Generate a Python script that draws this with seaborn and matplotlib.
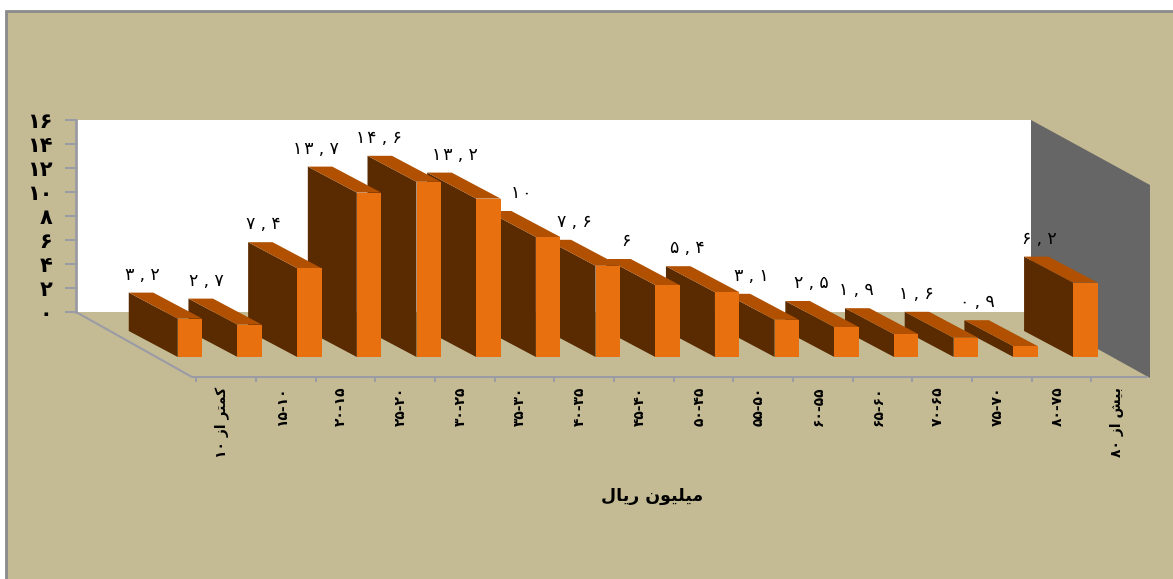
import matplotlib
matplotlib.use('Agg')
import matplotlib.pyplot as plt
import seaborn as sns
import pandas as pd
from matplotlib.patches import Polygon
from matplotlib.transforms import IdentityTransform

W, H = 1173, 579

# matplotlib has no arabic shaping, so words are given in presentation forms
def rtl(s):
    return s[::-1]

AZ = rtl('\uFE8D\uFEAF')
KAMTAR = rtl('\uFB90\uFEE4\uFE98\uFEAE')
BISH = rtl('\uFE91\uFEF4\uFEB6')
MILYUN = rtl('\uFEE3\uFEF4\uFEE0\uFEF4\uFEEE\uFEE5')
RIAL = rtl('\uFEAD\uFEF3\uFE8E\uFEDD')

categories = [
    f'۱۰ {AZ} {KAMTAR}', '۱۵-۱۰', '۲۰-۱۵', '۲۵-۲۰', '۳۰-۲۵', '۳۵-۳۰', '۴۰-۳۵', '۴۵-۴۰',
    '۵۰-۴۵', '۵۵-۵۰', '۶۰-۵۵', '۶۵-۶۰', '۷۰-۶۵', '۷۵-۷۰', '۸۰-۷۵', f'۸۰ {AZ} {BISH}',
]
values = [3.2, 2.7, 7.4, 13.7, 14.6, 13.2, 10, 7.6, 6, 5.4, 3.1, 2.5, 1.9, 1.6, 0.9, 6.2]
value_labels = ['۳,۲', '۲,۷', '۷,۴', '۱۳,۷', '۱۴,۶', '۱۳,۲', '۱۰', '۷,۶',
                '۶', '۵,۴', '۳,۱', '۲,۵', '۱,۹', '۱,۶', '۰,۹', '۶,۲']
# the labels were nudged by hand in the original, pixels left of each bar's front
label_shift = [35, 31, 34, 41, 38, 21, 15, 21, 29, 28, 23, 23, 38, 37, 36, 34]
y_ticks = [0, 2, 4, 6, 8, 10, 12, 14, 16]
y_tick_labels = ['۰', '۲', '۴', '۶', '۸', '۱۰', '۱۲', '۱۴', '۱۶']
x_title = f'{RIAL} {MILYUN}'

TAN = '#C4BB95'
FRONT = '#E8700F'
SIDE = '#5A2A00'
TOP = '#B05000'
WALL = '#666666'
LINE = '#9B9BA5'
DEPTH = (-49, 26)

sns.set_style('white')
plt.rcParams['font.family'] = ['DejaVu Sans']


def px(x, y):
    # picture pixels (origin top left) to display coordinates
    return (x, H - y)


def add_axes_px(fig, left, top, right, bottom):
    return fig.add_axes([left / W, 1 - bottom / H, (right - left) / W, (bottom - top) / H])


def poly(fig, pts, color, edge='none', lw=0, zorder=1):
    fig.add_artist(Polygon([px(*p) for p in pts], closed=True, facecolor=color, edgecolor=edge,
                           linewidth=lw, transform=IdentityTransform(), zorder=zorder))


def spaced(label):
    # the original sets the digits wide apart
    return '\u200a'.join(label).replace(',', '\u2009,\u2009')


fig = plt.figure(figsize=(W / 100, H / 100), dpi=100, facecolor='white')

# tan chart area with its grey frame
poly(fig, [(6, 11), (W + 5, 11), (W + 5, H + 5), (6, H + 5)], TAN, edge='#8A8A8A', lw=2, zorder=0)

# back wall carries the value axis
back = add_axes_px(fig, 76, 120, 1031, 312)
back.set_zorder(1)
back.set_facecolor('white')
back.set_xlim(-0.5, 15.5)
back.set_ylim(0, 16)
back.set_xticks([])
back.set_yticks(y_ticks)
back.set_yticklabels(y_tick_labels, fontsize=15, fontweight='bold', color='black')
back.tick_params(axis='y', length=8, width=1.5, color=LINE, pad=9, left=True)
for name, sp in back.spines.items():
    sp.set_visible(name == 'left')
    sp.set_color(LINE)
    sp.set_linewidth(2)

# right hand wall and floor edges
poly(fig, [(1031, 120), (1150, 185), (1150, 378), (1031, 312)], WALL, zorder=2)
floor_pts = [(76, 312), (192, 377), (1147, 377)]
fig.add_artist(plt.Line2D([p[0] for p in floor_pts], [H - p[1] for p in floor_pts], color=LINE,
                          linewidth=1.5, transform=IdentityTransform(), zorder=2))

# floor front edge: category ticks and labels
floor = add_axes_px(fig, 192, 185, 1147, 377)
floor.set_zorder(3)
floor.patch.set_alpha(0)
floor.set_xlim(-0.5, 15.5)
floor.set_ylim(0, 16)
floor.set_yticks([])
floor.set_xticks(range(16))
floor.set_xticklabels(categories, rotation=90, fontsize=10, fontweight='bold', color='black')
floor.tick_params(axis='x', length=0, pad=7)
for i in range(16):
    floor.plot([i - 0.43, i - 0.43], [0, -0.3], color=LINE, lw=1.5, clip_on=False)
for sp in floor.spines.values():
    sp.set_visible(False)
floor.set_xlabel(x_title, fontsize=12.5, fontweight='bold', color='black')
floor.xaxis.set_label_coords((652 - 192) / 955, -(487 - 377) / 192)

# bars sit on a plane between the back wall and the floor edge
ax = add_axes_px(fig, 160.15, 165, 1115.15, 357)
ax.set_zorder(4)
ax.patch.set_alpha(0)
df = pd.DataFrame({'range': categories, 'value': values})
sns.barplot(data=df, x='range', y='value', color=FRONT, saturation=1, width=0.41, ax=ax,
            linewidth=0, edgecolor='none')
ax.set_xlim(-0.5, 15.5)
ax.set_ylim(0, 16)
ax.set_xlabel('')
ax.set_ylabel('')
ax.set_xticks([])
ax.set_yticks([])
for sp in ax.spines.values():
    sp.set_visible(False)

fig.canvas.draw()
for i, bar in enumerate(ax.patches):
    bb = bar.get_window_extent()
    x0, x1, y0, y1 = bb.x0, bb.x1, bb.y0, bb.y1
    dx, dy = DEPTH
    # left bars stand in front of the ones to their right
    z = 10 + (15 - i) * 3
    side = [(x0, y0), (x0, y1), (x0 + dx, y1 + dy), (x0 + dx, y0 + dy)]
    top = [(x0, y1), (x1, y1), (x1 + dx, y1 + dy), (x0 + dx, y1 + dy)]
    ax.add_patch(Polygon(side, closed=True, facecolor=SIDE, edgecolor='none',
                         transform=IdentityTransform(), clip_on=False, zorder=z))
    ax.add_patch(Polygon(top, closed=True, facecolor=TOP, edgecolor='none',
                         transform=IdentityTransform(), clip_on=False, zorder=z + 1))
    bar.set_zorder(z + 2)
    bar.set_clip_on(False)
    ax.text(x0 - label_shift[i], y1 + dy + 18, spaced(value_labels[i]), ha='center', va='center',
            fontsize=12.5, color='black', transform=IdentityTransform(), clip_on=False, zorder=100)

fig.savefig('out.png', dpi=100, facecolor=fig.get_facecolor())
